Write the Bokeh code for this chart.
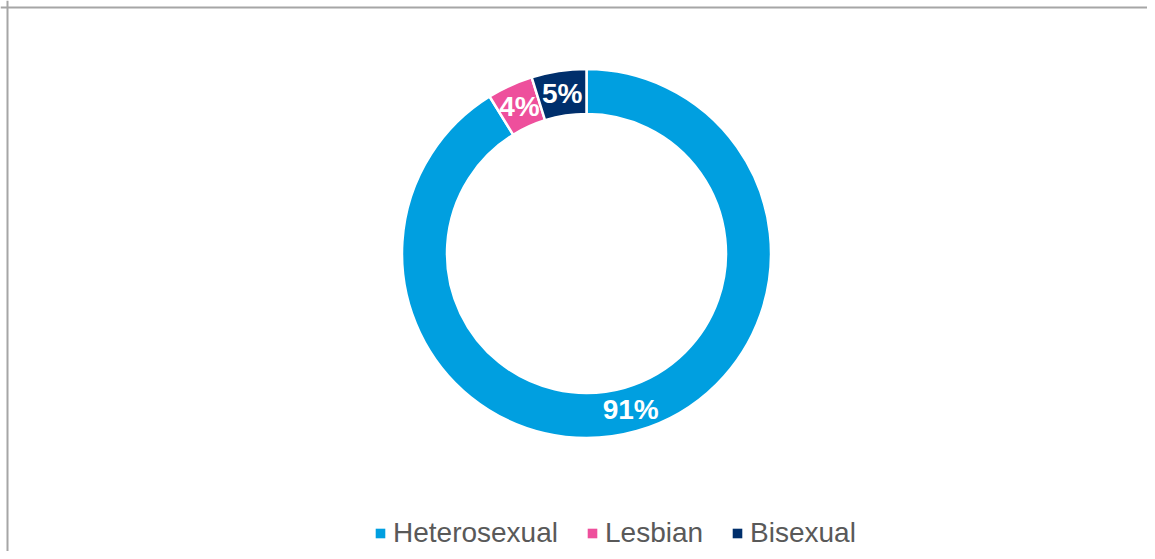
import numpy as np
from bokeh.plotting import figure
from bokeh.models import ColumnDataSource, Range1d, Legend, LegendItem, Span
from bokeh.core.properties import value
from bokeh.embed import file_html
from bokeh.resources import INLINE

# ---- data ----
categories = ["Heterosexual", "Lesbian", "Bisexual"]
shares = [91.2, 4.0, 4.8]
labels = ["91%", "4%", "5%"]
colors = ["#009FE0", "#EE4F9C", "#002F6C"]

W, H = 1147, 551
p = figure(width=W, height=H, output_backend="svg", toolbar_location=None,
           x_range=Range1d(0, W), y_range=Range1d(0, H), min_border=0,
           match_aspect=False)
p.axis.visible = False
p.grid.visible = False
p.outline_line_color = None
p.background_fill_color = "white"
p.border_fill_color = "white"

cx, cy = 586, 298
r_in, r_out = 139.5, 184.5

vals = np.array(shares, dtype=float)
frac = vals / vals.sum()
cum = np.concatenate([[0], np.cumsum(frac)])
start = np.pi / 2 - cum[:-1] * 2 * np.pi
end = np.pi / 2 - cum[1:] * 2 * np.pi
mid = (start + end) / 2
r_mid = (r_in + r_out) / 2

src = ColumnDataSource(dict(cat=categories, start=start, end=end, color=colors,
                            lx=cx + r_mid * np.cos(mid), ly=cy + r_mid * np.sin(mid),
                            lab=labels))

p.annular_wedge(x=cx, y=cy, inner_radius=r_in, outer_radius=r_out,
                start_angle="start", end_angle="end", direction="clock",
                fill_color="color", line_color="white", line_width=2.5, source=src)

p.text(x="lx", y="ly", text="lab", source=src, text_align="center",
       text_baseline="middle", text_color="white", text_font_style="bold",
       text_font=value("Liberation Sans"), text_font_size="28px")

# legend via off-screen rect renderers
items = []
for c, col in zip(categories, colors):
    r = p.rect(x=[-1000], y=[-1000], width=1, height=1, fill_color=col, line_color=None)
    items.append(LegendItem(label=c, renderers=[r]))

legend = Legend(items=items, orientation="horizontal", location=(374, 2),
                glyph_width=12, glyph_height=12, label_standoff=7, spacing=28,
                padding=0, margin=0, border_line_color=None,
                background_fill_alpha=0,
                label_text_font="Liberation Sans", label_text_font_size="28px",
                label_text_color="#595959")
p.add_layout(legend, "center")

# chart border (top and left edges)
p.add_layout(Span(location=H - 7, dimension="width", line_color="#A6A6A6", line_width=2))
p.add_layout(Span(location=7, dimension="height", line_color="#A6A6A6", line_width=2))

open("out.html", "w").write(file_html(p, INLINE))
